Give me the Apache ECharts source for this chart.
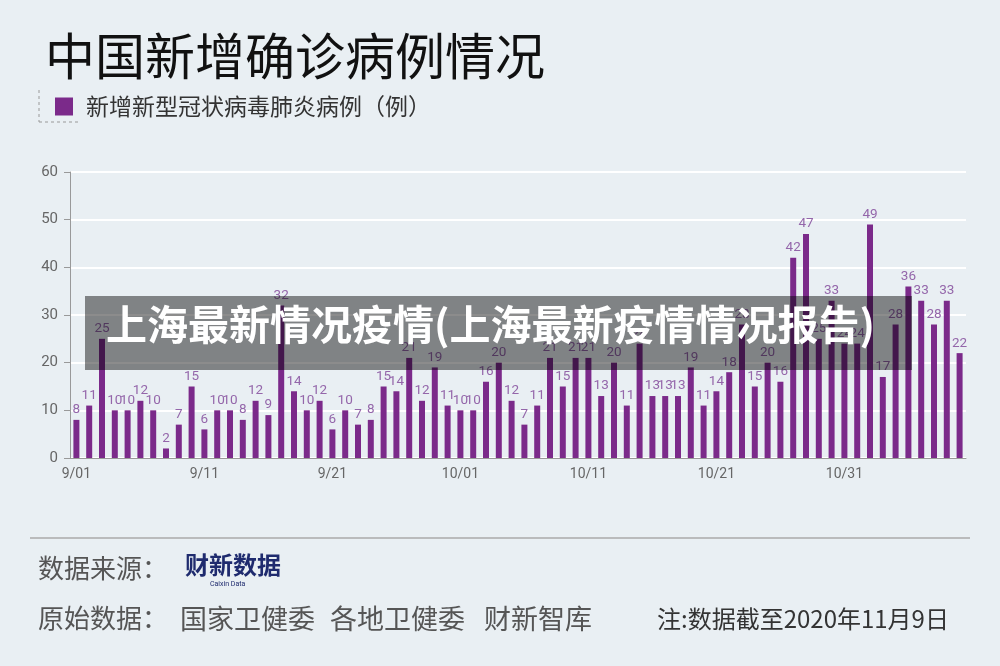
<!DOCTYPE html>
<html><head><meta charset="utf-8">
<script src="https://cdn.jsdelivr.net/npm/echarts@6/dist/echarts.min.js"></script>
<style>html,body{margin:0;padding:0;background:#e9eff3;}#c{width:1000px;height:666px;}</style>
</head><body><div id="c"></div>
<script>
const categories = [
 "9/01","9/02","9/03","9/04","9/05","9/06","9/07","9/08","9/09","9/10",
 "9/11","9/12","9/13","9/14","9/15","9/16","9/17","9/18","9/19","9/20",
 "9/21","9/22","9/23","9/24","9/25","9/26","9/27","9/28","9/29","9/30",
 "10/01","10/02","10/03","10/04","10/05","10/06","10/07","10/08","10/09","10/10",
 "10/11","10/12","10/13","10/14","10/15","10/16","10/17","10/18","10/19","10/20",
 "10/21","10/22","10/23","10/24","10/25","10/26","10/27","10/28","10/29","10/30",
 "10/31","11/01","11/02","11/03","11/04","11/05","11/06","11/07","11/08","11/09"];
const newCases = [
 8,11,25,10,10,12,10,2,7,15,
 6,10,10,8,12,9,32,14,10,12,
 6,10,7,8,15,14,21,12,19,11,
 10,10,16,20,12,7,11,21,15,21,
 21,13,20,11,24,13,13,13,19,11,
 14,18,28,15,20,16,42,47,25,33,
 24,24,49,17,28,36,33,28,33,22];
const yTicks = [0,10,20,30,40,50,60];
const seriesName = "新增新型冠状病毒肺炎病例（例）";
const titleText = "中国新增确诊病例情况";
const bannerText = "上海最新情况疫情(上海最新疫情情况报告)";
const sourceLabel = "数据来源：";
const rawLabel = "原始数据：";
const rawSources = ["国家卫健委", "各地卫健委", "财新智库"];
const noteText = "注:数据截至2020年11月9日";

const FONT = '"Noto Sans CJK SC","Noto Sans",sans-serif';
const NUMFONT = 'Roboto,"Noto Sans",sans-serif';
const chart = echarts.init(document.getElementById('c'));
const srcX = [180, 330, 484];
chart.setOption({
  backgroundColor: '#e9eff3',
  animation: false,
  textStyle: {fontFamily: FONT},
  title: {text: titleText, left: 40, top: 26,
    textStyle: {fontSize: 50, fontWeight: 'normal', color: '#111', fontFamily: FONT}},
  legend: {left: 50, top: 90, itemWidth: 18, itemHeight: 18, itemGap: 10,
    icon: 'rect', data: [seriesName],
    textStyle: {fontSize: 23, color: '#333', fontFamily: FONT, padding: [0,0,0,8]}},
  grid: {left: 70, right: 34, top: 172, bottom: 208, containLabel: false},
  xAxis: {type: 'category', data: categories, boundaryGap: true,
    axisLine: {lineStyle: {color: '#999', width: 1}},
    axisTick: {interval: 9, length: 5, lineStyle: {color: '#999'}},
    axisLabel: {interval: 9, color: '#666', fontSize: 14, margin: 9, fontFamily: NUMFONT}},
  yAxis: {type: 'value', min: yTicks[0], max: yTicks[yTicks.length-1], interval: 10,
    axisLine: {show: true, lineStyle: {color: '#999'}},
    axisTick: {show: true, length: 6, lineStyle: {color: '#999'}},
    axisLabel: {color: '#666', fontSize: 15, margin: 12, fontFamily: NUMFONT},
    splitLine: {lineStyle: {color: '#ffffff', width: 2}}},
  series: [{name: seriesName, type: 'bar', data: newCases, barWidth: 6,
    itemStyle: {color: '#7b2a8a'},
    label: {show: true, position: 'top', distance: 3, color: '#9466aa', fontSize: 13.5,
      fontFamily: NUMFONT}}],
  graphic: [
    {type: 'line', shape: {x1: 39, y1: 90, x2: 39, y2: 122}, style: {stroke: '#999', lineWidth: 1, lineDash: [3,3]}},
    {type: 'line', shape: {x1: 39, y1: 122, x2: 79, y2: 122}, style: {stroke: '#999', lineWidth: 1, lineDash: [3,3]}},
    {type: 'line', shape: {x1: 30, y1: 538, x2: 970, y2: 538}, style: {stroke: '#aaa', lineWidth: 1.5}},
    {type: 'text', left: 38, top: 555, style: {text: sourceLabel, fontSize: 26, fill: '#555', fontFamily: FONT}},
    {type: 'text', left: 185, top: 553, style: {text: '财新数据', fontSize: 24, fontWeight: 'bold', fill: '#1f2b6e', fontFamily: FONT}},
    {type: 'text', left: 210, top: 581, style: {text: 'Caixin Data', fontSize: 7, fill: '#1f2b6e', fontFamily: NUMFONT}},
    {type: 'text', left: 38, top: 605, style: {text: rawLabel, fontSize: 26, fill: '#555', fontFamily: FONT}},
    {type: 'text', left: srcX[0], top: 605, style: {text: rawSources[0], fontSize: 27, fill: '#555', fontFamily: FONT}},
    {type: 'text', left: srcX[1], top: 605, style: {text: rawSources[1], fontSize: 27, fill: '#555', fontFamily: FONT}},
    {type: 'text', left: srcX[2], top: 605, style: {text: rawSources[2], fontSize: 27, fill: '#555', fontFamily: FONT}},
    {type: 'text', left: 657, top: 607, style: {text: noteText, fontSize: 24, fill: '#333', fontFamily: FONT}},
    {type: 'rect', shape: {x: 85, y: 296, width: 827, height: 74}, style: {fill: 'rgba(0,0,0,0.45)'}, z: 100},
    {type: 'text', left: 106, top: 304, z: 101, style: {text: bannerText, fontSize: 41, fontWeight: 'bold', fill: '#ffffff', fontFamily: FONT}}
  ]
});
</script></body></html>
